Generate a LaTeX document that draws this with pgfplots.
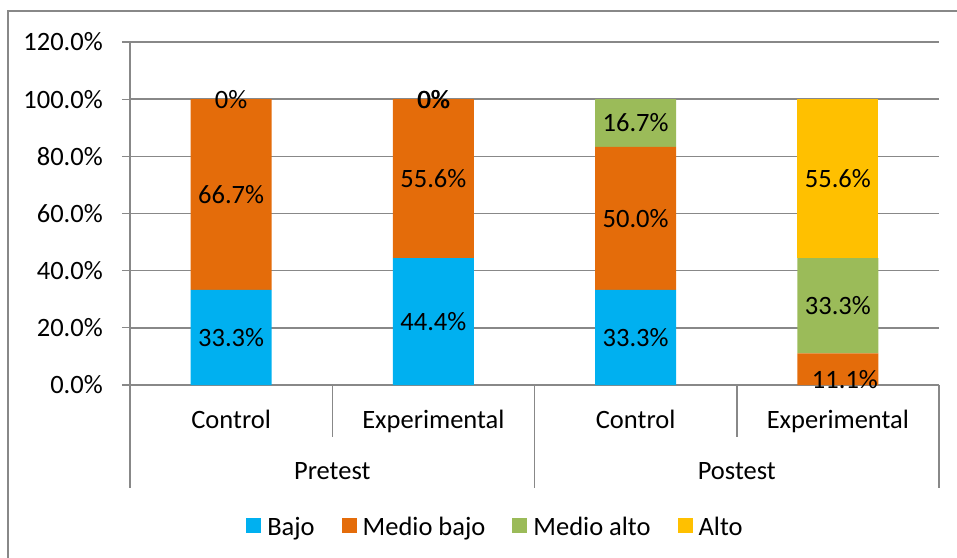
\documentclass[border=0pt]{standalone}
\usepackage{pgfplots}
\pgfplotsset{compat=1.18}
\usepackage{fontspec}
\setmainfont{Carlito}

\definecolor{bajo}{HTML}{00B0F0}
\definecolor{mbajo}{HTML}{E46C0A}
\definecolor{malto}{HTML}{9BBB59}
\definecolor{alto}{HTML}{FFC000}
\definecolor{linegray}{HTML}{888888}

\pgfplotsset{
  chartframe/.style={
    at={(130bp,173bp)}, anchor=south west,
    scale only axis, width=809bp, height=343bp,
    xmin=-0.5, xmax=3.5, ymin=0, ymax=120, clip=false,
  },
}

\begin{document}
\begin{tikzpicture}[font=\fontsize{26.5bp}{31bp}\selectfont]
\path[use as bounding box, clip] (0,0) rectangle (957bp,558bp);
% chart frame
\draw[linegray, line width=1.3bp] (8bp,-10bp) rectangle (970bp,547bp);
\begin{axis}[
  chartframe,
  ybar stacked, bar width=81bp,
  xtick={0,1,2,3},
  xticklabels={Control,Experimental,Control,Experimental},
  xtick style={draw=none},
  xticklabel style={anchor=base, yshift=-43bp},
  ytick={0,20,...,120},
  yticklabels={0.0\%,20.0\%,40.0\%,60.0\%,80.0\%,100.0\%,120.0\%},
  ytick align=outside, major tick length=8bp,
  ytick style={linegray, line width=1.3bp},
  yticklabel style={anchor=east, inner sep=0pt, xshift=-19bp},
  ymajorgrids, grid style={linegray, line width=1.5bp},
  axis x line*=bottom, axis y line*=left,
  axis line style={linegray, line width=1.5bp, -},
  legend columns=4,
  legend style={draw=none, fill=none, inner sep=0pt, outer sep=0pt,
    at={(0.4505,-0.414)}, anchor=center,
    /tikz/every odd column/.append style={column sep=6bp},
    /tikz/every even column/.append style={column sep=27bp},
    nodes={inner sep=0pt}},
  legend image code/.code={\fill[#1] (0bp,-6bp) rectangle (15bp,9bp);},
]
\addplot[fill=bajo, draw=none] coordinates {(0,33.3) (1,44.4) (2,33.3) (3,0)};
\addplot[fill=mbajo, draw=none] coordinates {(0,66.7) (1,55.6) (2,50.0) (3,11.1)};
\addplot[fill=malto, draw=none] coordinates {(0,0) (1,0) (2,16.7) (3,33.3)};
\addplot[fill=alto, draw=none] coordinates {(0,0) (1,0) (2,0) (3,55.6)};
\legend{Bajo,Medio bajo,Medio alto,Alto}

% category separators below the axis
\draw[linegray, line width=1.5bp] (axis cs:0.5,0) -- ([yshift=-52bp]axis cs:0.5,0);
\draw[linegray, line width=1.5bp] (axis cs:2.5,0) -- ([yshift=-52bp]axis cs:2.5,0);
\draw[linegray, line width=1.5bp] (axis cs:-0.5,0) -- ([yshift=-103bp]axis cs:-0.5,0);
\draw[linegray, line width=1.5bp] (axis cs:1.5,0) -- ([yshift=-103bp]axis cs:1.5,0);
\draw[linegray, line width=1.5bp] (axis cs:3.5,0) -- ([yshift=-103bp]axis cs:3.5,0);

% group labels
\node[anchor=base] at ([yshift=-94bp]axis cs:0.5,0) {Pretest};
\node[anchor=base] at ([yshift=-94bp]axis cs:2.5,0) {Postest};
\end{axis}

% value labels, centred in each segment
\begin{axis}[
  chartframe, hide axis,
  point meta=explicit,
  every node near coord/.append style={anchor=center, font=\fontsize{26.5bp}{31bp}\selectfont},
]
\addplot[only marks, mark=none,
  nodes near coords={\pgfmathprintnumber[fixed,fixed zerofill,precision=1,assume math mode=true]{\pgfplotspointmeta}\%}]
  table[meta=v] {
x      y      v
0      16.65  33.3
0      66.65  66.7
1      22.2   44.4
1      72.2   55.6
2      16.65  33.3
2      58.3   50.0
2      91.65  16.7
3.035  1.8    11.1
3      27.75  33.3
3      72.2   55.6
};
\addplot[only marks, mark=none,
  nodes near coords={\pgfmathprintnumber[fixed,precision=0,assume math mode=true]{\pgfplotspointmeta}\%}]
  table[meta=v] {
x       y    v
0       100  0
1       100  0
1.0035  100  0
};
\end{axis}
\end{tikzpicture}
\end{document}
